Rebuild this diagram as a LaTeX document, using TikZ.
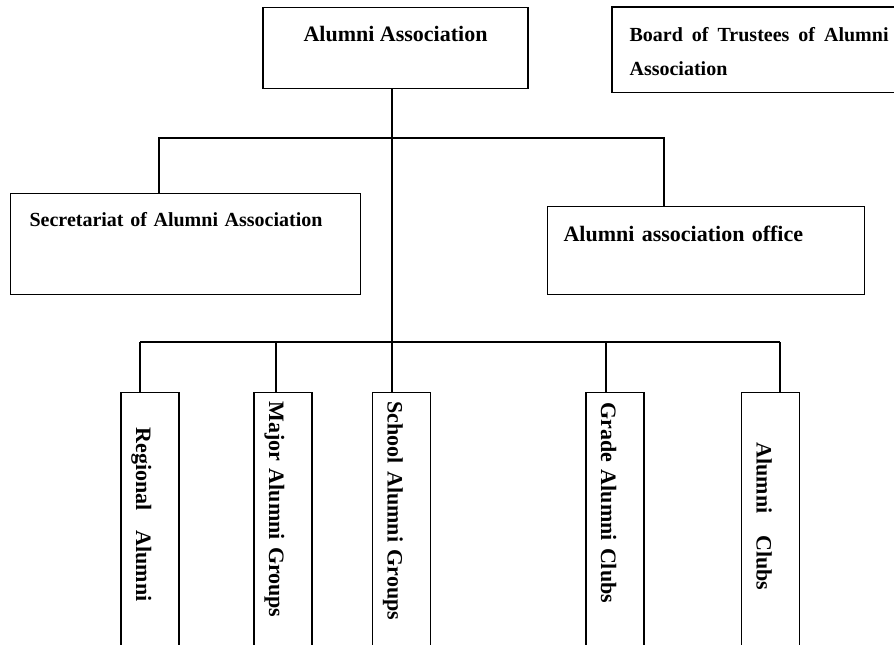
\documentclass[tikz,border=0pt]{standalone}
\usepackage{fontspec}
\setmainfont{Liberation Serif}

\begin{document}
\begin{tikzpicture}[
    x=1pt,y=-1pt,line width=1.2pt,
    box/.style={draw,rectangle,inner ysep=0pt,font=\bfseries\fontsize{22}{26}\selectfont},
    wbox/.style={box,anchor=north west,align=left},
    vbox/.style={box,rotate=-90,anchor=west,inner xsep=9pt,text width=252pt,align=left,
      text height=43pt,text depth=15pt}
  ]
  \useasboundingbox (0,0) rectangle (894,645);
  \node [box,anchor=north,minimum width=265pt,text height=34pt,text depth=47pt] (assoc) at (395.5,7) {Alumni Association};
  \node [wbox,draw=none,inner xsep=17pt,text width=300pt,text height=34pt,text depth=50pt,
    font=\bfseries\fontsize{20}{34}\selectfont] (board) at (612,7)
    {Board\hfill of\hfill Trustees\hfill of\hfill Alumni\hspace{41pt}\null\\Association};
  \draw (board.north east) -| (board.south west) -- (board.south east);
  \node [wbox,inner xsep=19pt,text width=312pt,text height=33pt,text depth=68pt,
    font=\bfseries\fontsize{20}{24}\selectfont] (secr) at (10,193) {Secretariat of Alumni Association};
  \node [wbox,inner xsep=16pt,text width=285pt,text height=35pt,text depth=53pt] (office) at (547,206) {Alumni association office};

  \coordinate (trunk) at (392,138);
  \coordinate (branch) at (392,342);
  \coordinate (secr-top) at (159,193);
  \coordinate (office-top) at (664,206);
  \draw (secr-top) |- (trunk) -| (office-top);

  \foreach \name/\cx/\drop/\pad/\txt in {
      reg/150/140/26/{Regional\hspace{20pt}Alumni},
      major/283/276/0/{Major Alumni Groups},
      school/401.5/392/0/{School Alumni Groups},
      grade/615/606/1/{Grade Alumni Clubs},
      clubs/770.5/780/41/{Alumni\hspace{22pt}Clubs}} {
    \node [vbox] (\name) at (\cx,392) {\hspace*{\pad pt}\txt};
    \coordinate (\name-top) at (\drop,392);
    \draw (\name-top) -- (\name-top |- branch);
  }
  \draw (reg-top |- branch) -- (clubs-top |- branch);
  \draw (assoc.south -| trunk) -- (school-top);
\end{tikzpicture}
\end{document}
